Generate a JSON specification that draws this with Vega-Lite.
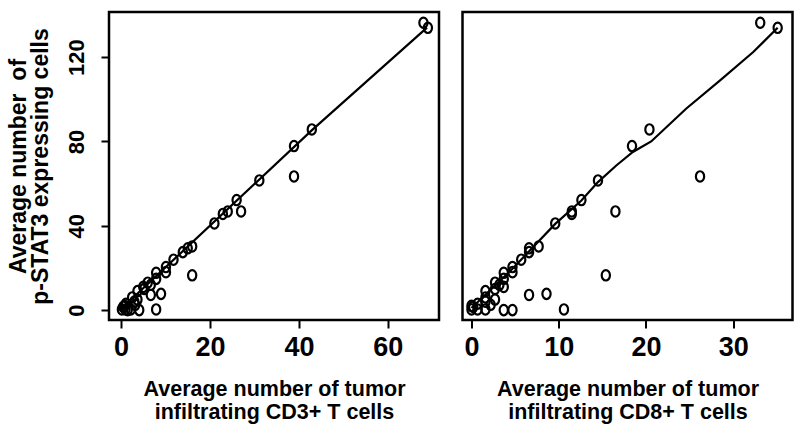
{
  "$schema": "https://vega.github.io/schema/vega-lite/v6.json",
  "background": "white",
  "padding": {"left": 5, "top": 10, "right": 10, "bottom": 5},
  "spacing": 19.5,
  "config": {
    "view": {"stroke": "black", "strokeWidth": 2.5},
    "font": "Liberation Sans",
    "axis": {
      "grid": false,
      "domain": false,
      "ticks": true,
      "tickColor": "black",
      "tickWidth": 2,
      "tickSize": 8,
      "labelColor": "black",
      "titleColor": "black",
      "labelFont": "Liberation Sans",
      "titleFont": "Liberation Sans",
      "labelFontWeight": "bold",
      "titleFontWeight": "bold"
    }
  },
  "datasets": {
    "pts": [
      {"cd3": 68.0, "cd8": 33.1, "pstat3": 136.3},
      {"cd3": 69.0, "cd8": 35.1, "pstat3": 133.9},
      {"cd3": 42.9, "cd8": 20.4, "pstat3": 85.7},
      {"cd3": 38.9, "cd8": 18.4, "pstat3": 77.8},
      {"cd3": 38.9, "cd8": 26.2, "pstat3": 63.4},
      {"cd3": 31.1, "cd8": 14.5, "pstat3": 61.5},
      {"cd3": 26.0, "cd8": 12.6, "pstat3": 52.2},
      {"cd3": 27.0, "cd8": 16.5, "pstat3": 46.8},
      {"cd3": 24.0, "cd8": 11.5, "pstat3": 46.8},
      {"cd3": 22.9, "cd8": 11.5, "pstat3": 45.6},
      {"cd3": 21.0, "cd8": 9.6, "pstat3": 41.1},
      {"cd3": 16.0, "cd8": 7.7, "pstat3": 30.2},
      {"cd3": 15.0, "cd8": 6.6, "pstat3": 29.3},
      {"cd3": 13.9, "cd8": 6.6, "pstat3": 27.5},
      {"cd3": 11.8, "cd8": 5.7, "pstat3": 23.9},
      {"cd3": 10.1, "cd8": 4.7, "pstat3": 20.4},
      {"cd3": 10.1, "cd8": 4.7, "pstat3": 18.0},
      {"cd3": 16.0, "cd8": 15.4, "pstat3": 16.5},
      {"cd3": 7.9, "cd8": 3.7, "pstat3": 17.7},
      {"cd3": 7.9, "cd8": 3.7, "pstat3": 14.8},
      {"cd3": 9.0, "cd8": 8.6, "pstat3": 7.7},
      {"cd3": 6.7, "cd8": 6.6, "pstat3": 7.2},
      {"cd3": 7.9, "cd8": 10.6, "pstat3": 0.3},
      {"cd3": 6.0, "cd8": 2.7, "pstat3": 13.0},
      {"cd3": 5.0, "cd8": 3.7, "pstat3": 11.0},
      {"cd3": 3.7, "cd8": 1.6, "pstat3": 9.0},
      {"cd3": 3.7, "cd8": 2.7, "pstat3": 5.0},
      {"cd3": 0.2, "cd8": 0.0, "pstat3": 0.3},
      {"cd3": 1.1, "cd8": 0.7, "pstat3": 3.0},
      {"cd3": 2.2, "cd8": 1.6, "pstat3": 0.3},
      {"cd3": 3.0, "cd8": 1.6, "pstat3": 4.0},
      {"cd3": 4.1, "cd8": 3.7, "pstat3": 0.0},
      {"cd3": 1.5, "cd8": 4.7, "pstat3": 0.0},
      {"cd3": 0.8, "cd8": 0.0, "pstat3": 2.0},
      {"cd3": 5.2, "cd8": 2.7, "pstat3": 10.0},
      {"cd3": 6.7, "cd8": 3.2, "pstat3": 12.0},
      {"cd3": 2.5, "cd8": 1.6, "pstat3": 6.0},
      {"cd3": 1.0, "cd8": 0.7, "pstat3": 0.3},
      {"cd3": 0.5, "cd8": 0.2, "pstat3": 1.5},
      {"cd3": 3.2, "cd8": 2.2, "pstat3": 2.5}
    ],
    "curve3": [
      {"cd3": 0.0, "pstat3": 0.5},
      {"cd3": 43.0, "pstat3": 85.5},
      {"cd3": 68.8, "pstat3": 134.0}
    ],
    "curve8": [
      {"cd8": 0.0, "pstat3": 1.0},
      {"cd8": 4.7, "pstat3": 19.6},
      {"cd8": 9.6, "pstat3": 40.9},
      {"cd8": 12.6, "pstat3": 52.0},
      {"cd8": 14.5, "pstat3": 60.7},
      {"cd8": 16.6, "pstat3": 68.6},
      {"cd8": 18.5, "pstat3": 75.0},
      {"cd8": 20.6, "pstat3": 80.0},
      {"cd8": 24.6, "pstat3": 95.5},
      {"cd8": 28.5, "pstat3": 109.0},
      {"cd8": 32.3, "pstat3": 122.4},
      {"cd8": 35.1, "pstat3": 133.9}
    ]
  },
  "hconcat": [
    {
      "width": 330,
      "height": 308,
      "layer": [
        {
          "data": {"name": "pts"},
          "mark": {"type": "point", "shape": "M -0.78,0 A 0.78,0.98 0 1,1 0.78,0 A 0.78,0.98 0 1,1 -0.78,0 Z", "size": 112, "strokeWidth": 2.2, "color": "black", "filled": false, "opacity": 1},
          "encoding": {
            "x": {"field": "cd3", "type": "quantitative", "scale": {"domain": [-2.7, 71.5], "nice": false, "zero": false},
              "axis": {"values": [0, 20, 40, 60], "labelFontSize": 27, "labelPadding": 6, "title": ["Average number of tumor", "infiltrating CD3+ T cells"], "titleFontSize": 21.5, "titleLineHeight": 23, "titlePadding": 18}},
            "y": {"field": "pstat3", "type": "quantitative", "scale": {"domain": [-4.7, 141.4], "nice": false, "zero": false},
              "axis": {"values": [0, 40, 80, 120], "labelFontSize": 22, "labelAngle": -90, "labelAlign": "center", "labelBaseline": "bottom", "labelPadding": 13, "title": ["Average number\u00a0\u00a0of\u00a0\u00a0\u00a0\u00a0\u00a0\u00a0\u00a0\u00a0\u00a0\u00a0", "p-STAT3 expressing cells"], "titleFontSize": 23, "titleLineHeight": 22, "titlePadding": 13}}
          }
        },
        {
          "data": {"name": "curve3"},
          "mark": {"type": "line", "color": "black", "strokeWidth": 2.2},
          "encoding": {
            "x": {"field": "cd3", "type": "quantitative"},
            "y": {"field": "pstat3", "type": "quantitative"}
          }
        }
      ]
    },
    {
      "width": 330,
      "height": 308,
      "layer": [
        {
          "data": {"name": "pts"},
          "mark": {"type": "point", "shape": "M -0.78,0 A 0.78,0.98 0 1,1 0.78,0 A 0.78,0.98 0 1,1 -0.78,0 Z", "size": 112, "strokeWidth": 2.2, "color": "black", "filled": false, "opacity": 1},
          "encoding": {
            "x": {"field": "cd8", "type": "quantitative", "scale": {"domain": [-1.03, 36.8], "nice": false, "zero": false},
              "axis": {"values": [0, 10, 20, 30], "labelFontSize": 27, "labelPadding": 6, "title": ["Average number of tumor", "infiltrating CD8+ T cells"], "titleFontSize": 21.5, "titleLineHeight": 23, "titlePadding": 18}},
            "y": {"field": "pstat3", "type": "quantitative", "scale": {"domain": [-4.7, 141.4], "nice": false, "zero": false}, "axis": null}
          }
        },
        {
          "data": {"name": "curve8"},
          "mark": {"type": "line", "color": "black", "strokeWidth": 2.2},
          "encoding": {
            "x": {"field": "cd8", "type": "quantitative"},
            "y": {"field": "pstat3", "type": "quantitative"}
          }
        }
      ]
    }
  ]
}
